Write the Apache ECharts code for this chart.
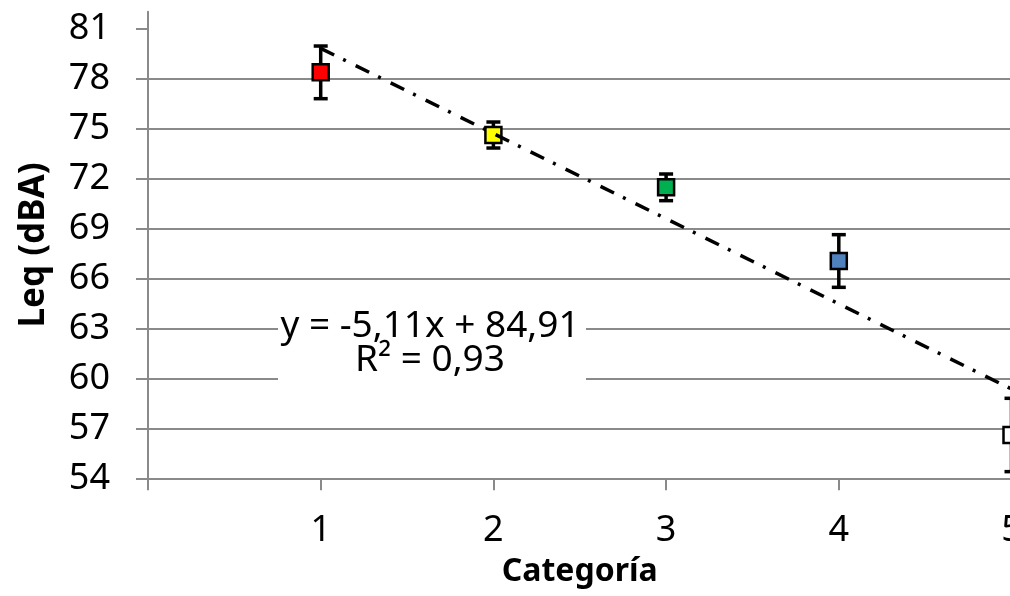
<!DOCTYPE html>
<html>
<head>
<meta charset="utf-8">
<script src="https://cdn.jsdelivr.net/npm/echarts@6/dist/echarts.min.js"></script>
<style>
  html, body { margin: 0; padding: 0; background: #fff; }
  #chart { width: 1010px; height: 596px; }
</style>
</head>
<body>
<div id="chart"></div>
<script>
  // data
  var categories = [1, 2, 3, 4, 5];
  var leqMean = [78.36, 74.6, 71.46, 67.04, 56.6];
  var leqErr = [1.58, 0.78, 0.8, 1.58, 2.2];
  var yTicks = [54, 57, 60, 63, 66, 69, 72, 75, 78, 81];
  // trend line printed on the chart
  var trendSlope = -5.11;
  var trendIntercept = 84.91;
  var trendText = ["y = -5,11x + 84,91", "R\u00b2 = 0,93"];

  var pointColors = ["#ff0000", "#ffff00", "#00b050", "#4f81bd", "#ffffff"];
  var FONT = "Noto Sans";
  var GRID_COLOR = "#8a8a8a";

  var points = categories.map(function (c, i) {
    return { value: [c, leqMean[i]], itemStyle: { color: pointColors[i] } };
  });
  var bars = categories.map(function (c, i) {
    return [c, leqMean[i] - leqErr[i], leqMean[i] + leqErr[i]];
  });
  var xFirst = categories[0], xLast = categories[categories.length - 1];
  var trend = [
    [xFirst, trendSlope * xFirst + trendIntercept],
    [xLast, trendSlope * xLast + trendIntercept]
  ];

  var chart = echarts.init(document.getElementById("chart"), null, { renderer: "canvas" });

  chart.setOption({
    animation: false,
    backgroundColor: "#fff",
    textStyle: { fontFamily: FONT },
    grid: { left: 148, right: -1.5, top: 11.7, bottom: 117.7, outerBoundsMode: "none" },
    xAxis: {
      type: "value",
      min: 0,
      max: 5,
      interval: 1,
      name: "Categoría",
      nameLocation: "middle",
      nameGap: 78,
      nameTextStyle: { fontFamily: FONT, fontSize: 32, fontWeight: "bold", color: "#000" },
      axisLine: { show: true, lineStyle: { color: GRID_COLOR, width: 2 } },
      axisTick: { show: true, length: 12, lineStyle: { color: GRID_COLOR, width: 2 } },
      axisLabel: {
        margin: 34,
        fontSize: 36,
        color: "#000",
        fontFamily: FONT,
        formatter: function (v) { return v === 0 ? "" : String(v); }
      },
      splitLine: { show: false }
    },
    yAxis: {
      type: "value",
      min: 54,
      max: 82,
      interval: 3,
      name: "Leq (dBA)",
      nameLocation: "middle",
      nameGap: 96,
      nameTextStyle: { fontFamily: FONT, fontSize: 35, fontWeight: "bold", color: "#000" },
      axisLine: { show: true, lineStyle: { color: GRID_COLOR, width: 2 } },
      axisTick: { show: true, length: 12, customValues: yTicks, lineStyle: { color: GRID_COLOR, width: 2 } },
      axisLabel: {
        margin: 38,
        fontSize: 36,
        color: "#000",
        fontFamily: FONT,
        customValues: yTicks
      },
      splitLine: { show: true, showMaxLine: false, lineStyle: { color: GRID_COLOR, width: 2 } }
    },
    graphic: [
      { type: "rect", z: 100, shape: { x: 278, y: 296, width: 308, height: 92 }, style: { fill: "#fff" } },
      {
        type: "text", z: 101, x: 430, y: 326,
        style: { text: trendText[0], fill: "#000", font: "37px 'Noto Sans'", align: "center", verticalAlign: "middle" }
      },
      {
        type: "text", z: 101, x: 430, y: 360,
        style: { text: trendText[1], fill: "#000", font: "37px 'Noto Sans'", align: "center", verticalAlign: "middle" }
      }
    ],
    series: [
      {
        type: "custom",
        z: 2,
        data: bars,
        clip: false,
        renderItem: function (params, api) {
          var x = api.value(0);
          var top = api.coord([x, api.value(2)]);
          var bot = api.coord([x, api.value(1)]);
          var hw = 7;
          var st = { stroke: "#000", lineWidth: 3.5 };
          return {
            type: "group",
            children: [
              { type: "line", shape: { x1: top[0], y1: top[1], x2: bot[0], y2: bot[1] }, style: st },
              { type: "line", shape: { x1: top[0] - hw, y1: top[1], x2: top[0] + hw, y2: top[1] }, style: st },
              { type: "line", shape: { x1: bot[0] - hw, y1: bot[1], x2: bot[0] + hw, y2: bot[1] }, style: st }
            ]
          };
        }
      },
      {
        type: "scatter",
        z: 3,
        symbol: "rect",
        symbolSize: 16,
        clip: false,
        itemStyle: { borderColor: "#000", borderWidth: 2.5, opacity: 1 },
        data: points
      },
      {
        type: "line",
        z: 4,
        data: trend,
        symbol: "none",
        lineStyle: { color: "#000", width: 3.5, type: [15, 10, 3, 11] }
      }
    ]
  });
</script>
</body>
</html>
